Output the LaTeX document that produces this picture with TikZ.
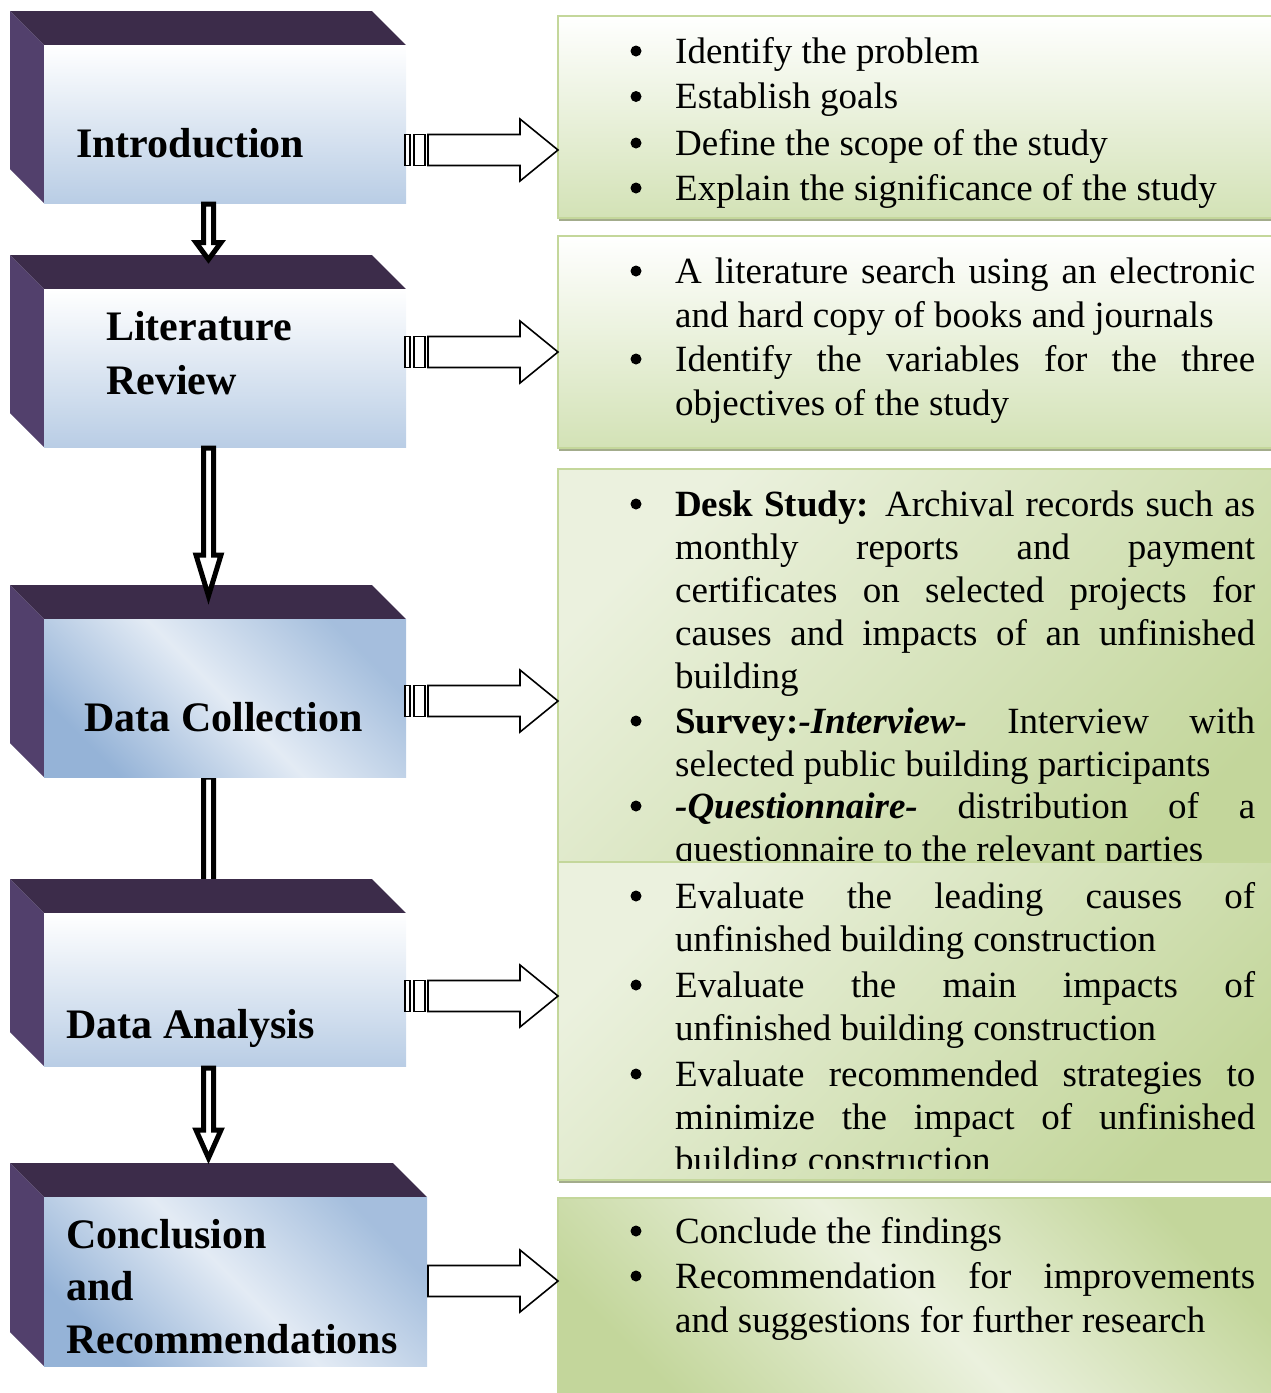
\documentclass[tikz,border=0pt]{standalone}
\usepackage{fontspec}
\setmainfont{Liberation Serif}
\usetikzlibrary{calc}
\definecolor{topface}{HTML}{3C2C4A}
\definecolor{sideface}{HTML}{52406C}
\definecolor{blueA}{HTML}{B9CDE5}
\definecolor{blueB}{HTML}{95B3D7}
\definecolor{blueL}{HTML}{DCE6F2}
\definecolor{greenA}{HTML}{D3E2B6}
\definecolor{greenB}{HTML}{C3D69B}
\definecolor{greenL}{HTML}{EBF1DE}
\definecolor{gborder}{HTML}{C4D79B}
\definecolor{gshadow}{HTML}{A3AC8C}
\tikzset{
 front/.style={draw=none, inner sep=0, anchor=north west},
 lab/.style={inner sep=0, anchor=base west, font=\fontsize{42}{53}\selectfont\bfseries},
 txt/.style={inner sep=0, anchor=base west, font=\fontsize{37}{43}\selectfont},
 gbox/.style={draw=gborder, line width=1.5, inner sep=0, anchor=north west},
 bul/.style={circle, fill=black, inner sep=0, minimum size=11},
 rarr/.style={draw=black, fill=white, line width=1.6, line join=miter},
 darr/.style={draw=black, fill=white, line width=5, line join=miter, miter limit=10},
 diagblue/.style={left color=blueB, right color=blueB!85!white, middle color=blueL!80!white, shading angle=135},
 diaggreen/.style={left color=greenB, right color=greenB, middle color=greenL, shading angle=135},
 cornergreen/.style={left color=greenL, right color=greenB, middle color=greenL!50!greenB, shading angle=45},
}
\newcommand\cubefaces[3]{%
 \fill[topface] (10,#2-34) -- (#1-34,#2-34) -- (#1,#2) -- (44,#2) -- cycle;
 \fill[sideface] (10,#2-34) -- (44,#2) -- (44,#3) -- (10,#3-34) -- cycle;}
\newcommand\downshape[4]{%
 \coordinate (#1s) at (208.5,#2); \coordinate (#1t) at (208.5,#4);
 \draw[darr] (203.5,#2) -- (203.5,#3) -- (196,#3) -- (#1t) -- (221,#3) -- (213.5,#3) -- (213.5,#2) -- cycle;}
\newcommand\rightblock[1]{%
 \draw[rarr] (428,#1-15.5) -- (520,#1-15.5) -- (520,#1-31) -- (558,#1) -- (520,#1+31) -- (520,#1+15.5) -- (428,#1+15.5) -- cycle;}
\newcommand\tailstripes[1]{%
 \draw[rarr] (405,#1-15.5) rectangle (410,#1+15.5);
 \draw[rarr] (414,#1-15.5) rectangle (425,#1+15.5);}
\newcommand\jl[1]{\makebox[580pt][s]{#1}}
\begin{document}
\begin{tikzpicture}[x=1pt,y=-1pt]
\useasboundingbox (0,0) rectangle (1271,1393);
\clip (0,0) rectangle (1271,1393);

% ---------- arrow behind cube 4 ----------
\downshape{dc}{777}{930}{950}

% ---------- cubes ----------
\cubefaces{406}{45}{203}
\node[front, minimum width=362, minimum height=158, top color=white, bottom color=blueA] (intro) at (44,45) {};
\cubefaces{406}{289}{447}
\node[front, minimum width=362, minimum height=158, top color=white, bottom color=blueA] (litrev) at (44,289) {};
\cubefaces{406}{619}{777}
\node[front, minimum width=362, minimum height=158, diagblue] (datacol) at (44,619) {};
\cubefaces{406}{913}{1066}
\node[front, minimum width=362, minimum height=153, top color=white, bottom color=blueA] (dataan) at (44,913) {};
\cubefaces{427}{1197}{1366}
\node[front, minimum width=383, minimum height=169, diagblue] (concl) at (44,1197) {};

% ---------- labels ----------
\node[lab] (l1) at (76,157) {Introduction};
\node[lab] (l2a) at (106,340) {Literature};
\node[lab] (l2b) at (106,394) {Review};
\node[lab] (l3) at (84,731) {Data Collection};
\node[lab] (l4) at (66,1038) {Data Analysis};
\node[lab] (l5a) at (66,1248) {Conclusion};
\node[lab] (l5b) at (66,1300) {and};
\node[lab] (l5c) at (66,1353) {Recommendations};

% ---------- down arrows ----------
\downshape{ir}{204}{242.5}{259.5}
\downshape{rd}{448}{555}{596}
\downshape{ac}{1068}{1130}{1158}

% ---------- green boxes ----------
\fill[gshadow] (559,19) rectangle (1290,221);
\node[gbox, minimum width=733, minimum height=202, top color=white, bottom color=greenA] (boxA) at (557,15) {};
\fill[gshadow] (559,239) rectangle (1290,451);
\node[gbox, minimum width=733, minimum height=212, top color=white, bottom color=greenA] (boxB) at (557,235) {};
\fill[gshadow] (559,472) rectangle (1290,884);
\node[gbox, minimum width=733, minimum height=412, cornergreen] (boxC) at (557,468) {};

% box A text
\node[bul] (ba1) at (636,51) {};
\node[txt] (ta1) at (675,63) {Identify the problem};
\node[bul] (ba2) at (636,96.5) {};
\node[txt] (ta2) at (675,108.5) {Establish goals};
\node[bul] (ba3) at (636,143) {};
\node[txt] (ta3) at (675,155) {Define the scope of the study};
\node[bul] (ba4) at (636,188) {};
\node[txt] (ta4) at (675,200) {Explain the significance of the study};

% box B text
\node[bul] (bb1) at (636,271) {};
\node[txt] (tb1) at (675,283) {\jl{A literature search using an electronic}};
\node[txt] (tb2) at (675,327) {and hard copy of books and journals};
\node[bul] (bb2) at (636,359) {};
\node[txt] (tb3) at (675,371) {\jl{Identify the variables for the three}};
\node[txt] (tb4) at (675,415) {objectives of the study};

% box C text
\node[bul] (bc1) at (636,504) {};
\node[txt] (tc1) at (675,516) {\jl{\textbf{Desk Study:} Archival records such as}};
\node[txt] (tc2) at (675,559) {\jl{monthly reports and payment}};
\node[txt] (tc3) at (675,602) {\jl{certificates on selected projects for}};
\node[txt] (tc4) at (675,645) {\jl{causes and impacts of an unfinished}};
\node[txt] (tc5) at (675,688) {building};
\node[bul] (bc2) at (636,721) {};
\node[txt] (tc6) at (675,733) {\jl{\textbf{Survey:\textit{-Interview-}} Interview with}};
\node[txt] (tc7) at (675,776) {selected public building participants};
\node[bul] (bc3) at (636,806) {};
\node[txt] (tc8) at (675,818) {\jl{\textbf{\textit{-Questionnaire-}} distribution of a}};
\node[txt] (tc9) at (675,861) {questionnaire to the relevant parties};

% box D
\fill[gshadow] (559,865) rectangle (1290,1183);
\node[gbox, minimum width=733, minimum height=318, cornergreen] (boxD) at (557,861) {};
\begin{scope}
\clip (557,862) rectangle (1290,1168);
\node[bul] (bd1) at (636,896) {};
\node[txt] (td1) at (675,908) {\jl{Evaluate the leading causes of}};
\node[txt] (td2) at (675,951) {unfinished building construction};
\node[bul] (bd2) at (636,985) {};
\node[txt] (td3) at (675,997) {\jl{Evaluate the main impacts of}};
\node[txt] (td4) at (675,1040) {unfinished building construction};
\node[bul] (bd3) at (636,1074) {};
\node[txt] (td5) at (675,1086) {\jl{Evaluate recommended strategies to}};
\node[txt] (td6) at (675,1129) {\jl{minimize the impact of unfinished}};
\node[txt] (td7) at (675,1172) {building construction};
\end{scope}

% box E
\node[gbox, minimum width=733, minimum height=220, diaggreen] (boxE) at (557,1197) {};
\node[bul] (be1) at (636,1231) {};
\node[txt] (te1) at (675,1243) {Conclude the findings};
\node[bul] (be2) at (636,1276) {};
\node[txt] (te2) at (675,1288) {\jl{Recommendation for improvements}};
\node[txt] (te3) at (675,1332) {and suggestions for further research};

% ---------- right block arrows ----------
\tailstripes{150}\rightblock{150}
\tailstripes{352}\rightblock{352}
\tailstripes{701}\rightblock{701}
\tailstripes{996}\rightblock{996}
\rightblock{1281}
\end{tikzpicture}
\end{document}
